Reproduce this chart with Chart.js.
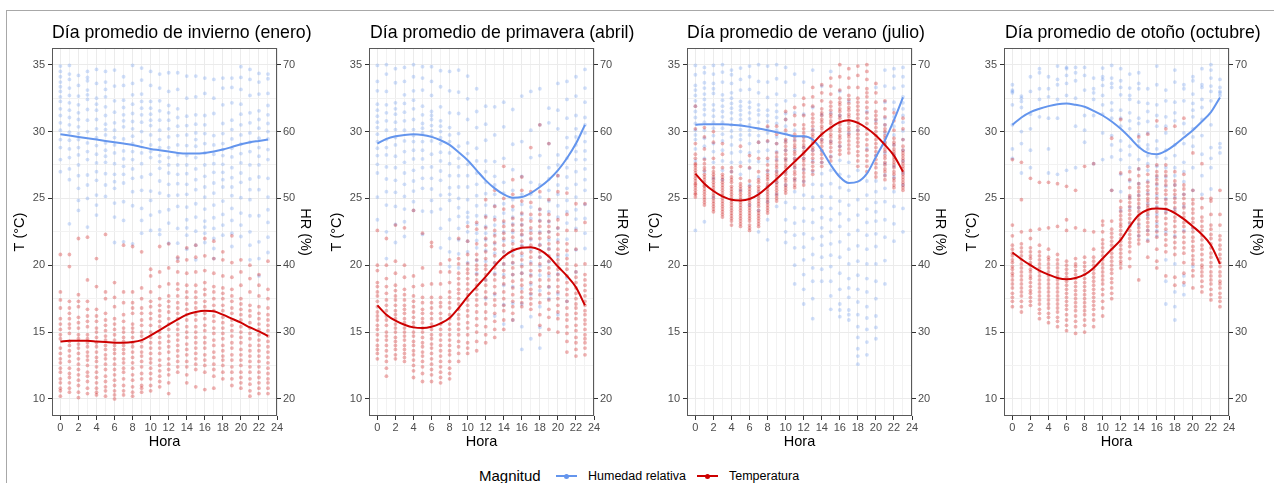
<!DOCTYPE html>
<html>
<head>
<meta charset="utf-8">
<script src="https://cdn.jsdelivr.net/npm/chart.js@4.4.0/dist/chart.umd.min.js"></script>
<style>
  body { margin: 0; background: #fff; font-family: "Liberation Sans", Arial, sans-serif; }
  #wrap { position: relative; width: 1274px; height: 483px; overflow: hidden; }
  #marco { position: absolute; left: 6px; top: 10px; width: 1268px; height: 473px;
           border-top: 1px solid #a8a8a8; border-left: 1px solid #a8a8a8; box-sizing: border-box; }
  canvas.panel { position: absolute; top: 0; }
  .titulo { position: absolute; top: 21.5px; height: 20px; line-height: 20px; font-size: 17.7px; color: #000; white-space: nowrap; }
  .ley { position: absolute; top: 467px; height: 18px; line-height: 18px; color: #000; white-space: nowrap; }
  .muestra { position: absolute; top: 475px; width: 21px; height: 2px; }
  .muestra i { position: absolute; left: 8px; top: -1.5px; width: 5px; height: 5px; border-radius: 50%; }
</style>
</head>
<body>
<div id="wrap">
  <div id="marco"></div>
  <canvas class="panel" id="p0" width="317" height="455" style="left:0px"></canvas>
  <canvas class="panel" id="p1" width="317" height="455" style="left:317px"></canvas>
  <canvas class="panel" id="p2" width="317" height="455" style="left:635px"></canvas>
  <canvas class="panel" id="p3" width="317" height="455" style="left:952px"></canvas>
  <div id="titulos"></div>

  <span class="ley" style="left:479px;font-size:15px">Magnitud</span>
  <div class="muestra" style="left:556px;background:#6495ED"><i style="background:#6495ED"></i></div>
  <span class="ley" style="left:588px;font-size:12.5px">Humedad relativa</span>
  <div class="muestra" style="left:697px;background:#CD0000"><i style="background:#CD0000"></i></div>
  <span class="ley" style="left:729px;font-size:12.5px">Temperatura</span>
</div>

<script>
// --- DATOS ---
const horas = [0,1,2,3,4,5,6,7,8,9,10,11,12,13,14,15,16,17,18,19,20,21,22,23];
const ticksHora = [0,2,4,6,8,10,12,14,16,18,20,22,24];
const gridHora = [0,1,2,3,4,5,6,7,8,9,10,11,12,13,14,15,16,17,18,19,20,21,22,23,24];
const ticksT = [10,15,20,25,30,35];
const gridT = [10,12.5,15,17.5,20,22.5,25,27.5,30,32.5,35];
const ticksHR = [20,30,40,50,60,70];

const titulos = [
    'Día promedio de invierno (enero)',
    'Día promedio de primavera (abril)',
    'Día promedio de verano (julio)',
    'Día promedio de otoño (octubre)'
];

// curvas suavizadas (una por hora)
const eneroCurvaT  = [14.3,14.35,14.35,14.35,14.3,14.25,14.2,14.2,14.25,14.4,14.75,15.15,15.55,15.95,16.3,16.5,16.6,16.55,16.3,16.0,15.7,15.35,15.05,14.7];
const eneroCurvaHR = [59.6,59.4,59.2,59.0,58.8,58.6,58.4,58.2,58.0,57.7,57.4,57.2,57.0,56.8,56.7,56.7,56.8,57.0,57.3,57.7,58.1,58.4,58.6,58.8];
const abrilCurvaT  = [17.0,16.3,15.85,15.55,15.35,15.3,15.4,15.65,16.05,16.8,17.65,18.4,19.15,19.95,20.65,21.1,21.3,21.35,21.15,20.65,19.9,19.2,18.35,17.0];
const abrilCurvaHR = [58.2,58.9,59.3,59.5,59.6,59.5,59.2,58.7,58.0,56.9,55.7,54.2,52.7,51.5,50.6,50.1,50.2,50.8,51.7,52.8,54.2,56.0,58.2,61.0];
const julioCurvaT  = [26.85,26.1,25.55,25.15,24.9,24.85,24.95,25.3,25.85,26.45,27.1,27.75,28.4,29.1,29.8,30.3,30.7,30.85,30.65,30.25,29.7,29.0,28.2,27.0];
const julioCurvaHR = [61.0,61.1,61.1,61.1,61.0,60.9,60.7,60.45,60.2,59.9,59.6,59.3,59.3,58.8,57.2,55.0,53.2,52.3,52.5,53.7,56.2,58.7,61.7,65.1];
const octubreCurvaT  = [20.95,20.45,20.0,19.6,19.3,19.05,18.95,19.05,19.3,19.8,20.5,21.2,21.9,22.9,23.75,24.15,24.25,24.2,23.9,23.45,22.9,22.3,21.5,20.1];
const octubreCurvaHR = [61.0,62.1,62.9,63.4,63.8,64.1,64.2,64.0,63.7,63.1,62.4,61.5,60.4,59.1,57.7,56.8,56.6,57.1,58.0,59.1,60.2,61.5,62.9,65.1];

// observaciones por hora (fila = hora 0..23)
const eneroT = [
  [10.2,10.8,11.5,12.3,13.0,13.8,14.5,15.2,16.0,16.8,18.0,20.8],
  [10.5,11.2,11.9,12.8,13.6,14.3,14.9,15.6,16.4,17.3,19.9,20.8],
  [10.1,11.0,11.8,12.6,13.4,14.1,14.8,15.3,16.1,16.9,17.8,22.0],
  [10.4,11.3,12.0,12.9,13.5,14.2,14.8,15.4,16.2,17.3,18.9,22.1],
  [10.3,10.8,11.6,12.4,13.1,13.9,14.6,15.3,15.8,16.7,18.4,20.5],
  [10.2,10.9,11.7,12.6,13.3,14.0,14.7,15.5,16.4,17.5,18.0,22.3],
  [10.0,10.6,11.4,12.2,13.0,13.7,14.4,15.2,16.0,16.9,17.6,18.7],
  [10.3,11.0,12.0,12.7,13.4,14.0,14.6,15.3,16.3,17.2,18.0,21.5],
  [10.2,10.9,11.8,12.7,13.5,14.2,15.0,15.6,16.4,17.2,18.0,21.4],
  [10.5,11.0,11.9,12.8,13.5,14.3,15.0,15.9,16.8,17.5,18.3,21.0],
  [10.6,11.5,12.3,13.0,13.8,14.6,15.5,16.4,17.3,18.0,19.2,19.7],
  [10.9,11.7,12.5,13.4,14.2,15.0,15.8,16.6,17.5,18.4,19.5,21.4],
  [10.4,11.8,12.6,13.5,14.3,15.2,16.0,16.9,17.7,18.6,19.8,21.6],
  [12.0,12.8,13.6,14.4,15.2,16.0,16.8,17.7,18.6,19.5,20.3,20.6],
  [11.2,12.4,13.3,14.1,15.0,15.9,16.7,17.6,18.5,19.4,20.4,21.3],
  [10.9,12.6,13.4,14.2,15.0,15.9,16.8,17.6,18.5,19.5,20.6,21.5],
  [10.7,12.5,13.3,14.2,15.1,16.0,16.9,17.8,18.7,19.6,20.7,22.0],
  [10.8,12.2,13.1,14.0,14.9,15.8,16.6,17.5,18.4,19.4,20.5,21.8],
  [11.5,12.5,13.2,14.0,14.9,15.7,16.6,17.5,18.3,19.2,20.4,21.0],
  [11.0,12.0,12.9,13.8,14.7,15.5,16.4,17.3,18.2,19.1,20.2,22.2],
  [10.8,11.6,12.5,13.3,14.2,15.0,15.9,16.7,17.5,18.5,19.5,20.4],
  [10.2,11.1,12.0,12.8,13.6,14.5,15.3,16.2,17.0,18.0,19.0,20.0],
  [10.4,11.2,12.0,12.8,13.6,14.4,15.2,16.0,16.9,17.7,18.5,19.3],
  [10.4,11.2,11.9,12.7,13.5,14.3,15.1,15.9,16.8,17.5,18.2,20.3]
];
const eneroT2 = [
  [10.6,11.2,12.0,12.7,13.4,14.8,15.6,17.4],
  [10.8,11.6,12.3,13.2,14.0,15.3,16.0,16.8],
  [10.5,11.4,12.2,13.0,13.8,14.5,15.7,17.3],
  [10.8,11.7,12.5,13.2,13.9,14.5,15.8,16.7],
  [10.5,11.2,12.0,12.8,13.5,14.2,15.0,16.2],
  [10.6,11.3,12.2,13.0,13.7,14.4,15.1,15.9],
  [10.3,11.0,11.8,12.6,13.4,14.0,14.8,15.6],
  [10.6,11.5,12.3,13.0,13.7,14.3,15.0,15.8],
  [10.5,11.4,12.3,13.1,13.9,14.6,15.3,16.8],
  [10.8,11.5,12.4,13.2,13.9,14.7,15.5,16.4],
  [11.0,11.9,12.7,13.4,14.2,15.0,16.0,16.9],
  [11.3,12.1,12.9,13.8,14.6,15.4,16.2,17.0],
  [11.2,12.2,13.0,13.9,14.7,15.6,16.5,17.3],
  [12.4,13.2,14.0,14.8,15.6,16.4,17.2,18.2],
  [11.8,12.8,13.7,14.6,15.4,16.3,17.1,18.0],
  [12.2,13.0,13.8,14.6,15.4,16.3,17.2,18.0],
  [12.0,12.9,13.8,14.6,15.5,16.4,17.3,18.2],
  [11.7,12.6,13.5,14.4,15.3,16.2,17.0,18.0],
  [12.0,12.9,13.6,14.5,15.3,16.1,17.0,17.9],
  [11.5,12.4,13.3,14.2,15.1,15.9,16.8,17.7],
  [11.2,12.0,12.9,13.7,14.6,15.4,16.3,17.1],
  [10.6,11.5,12.4,13.2,14.0,14.9,15.7,16.6],
  [10.8,11.6,12.4,13.2,14.0,14.8,15.6,16.4],
  [10.8,11.5,12.3,13.1,13.9,14.7,15.5,16.3]
];
const eneroHR = [
  [54.0,55.8,57.6,60.2,62.4,64.5,66.0,67.4,69.0,69.8],
  [46.2,52.8,56.1,58.7,61.0,63.2,65.4,66.5,67.8,69.9],
  [48.2,49.7,53.4,56.5,58.8,60.7,62.8,65.3,66.9,68.4],
  [45.7,50.0,53.5,55.8,58.3,61.7,64.8,66.2,67.6,68.1],
  [47.5,50.5,52.7,55.3,57.9,60.4,63.2,65.0,67.2,69.3],
  [50.3,52.0,55.4,57.2,59.5,61.1,63.7,65.2,67.4,69.0],
  [43.4,47.2,51.5,53.6,56.8,59.1,61.3,64.6,66.8,69.2],
  [43.5,46.7,52.3,54.8,57.1,60.7,62.5,64.7,66.9,68.2],
  [43.2,48.9,53.0,55.8,58.2,60.4,62.7,64.1,67.2,69.9],
  [44.8,48.5,51.2,55.2,58.5,61.4,63.5,65.6,67.7,69.5],
  [45.2,49.7,51.1,56.1,58.0,60.9,62.6,64.5,66.9,69.0],
  [44.6,45.3,50.8,54.5,56.4,58.8,61.7,64.6,66.5,68.6],
  [43.3,48.3,50.4,53.8,56.1,59.2,61.7,63.9,66.0,68.8],
  [41.0,45.5,48.8,52.2,55.0,58.0,60.8,63.4,66.3,68.8],
  [42.4,44.5,46.8,50.6,53.7,56.4,59.5,62.3,65.0,68.3],
  [40.8,43.0,47.2,51.3,54.4,57.8,59.8,62.5,65.2,68.3],
  [43.4,44.8,46.6,50.2,53.3,56.8,59.7,62.4,65.7,68.0],
  [41.0,44.0,47.1,50.8,53.9,56.6,59.4,62.7,65.0,67.8],
  [44.5,47.6,51.7,53.9,56.4,58.2,61.2,64.0,66.5,68.0],
  [42.8,46.7,50.4,53.1,56.2,58.9,61.7,64.3,66.6,68.0],
  [44.3,47.8,52.4,55.3,58.1,61.0,64.1,66.3,68.1,69.7],
  [40.8,45.0,49.8,52.9,57.0,59.8,62.8,65.4,67.8,69.3],
  [38.4,43.5,51.3,55.0,57.6,60.5,63.1,65.6,67.4,68.7],
  [41.9,46.4,50.2,55.8,58.9,61.2,63.9,65.7,67.9,68.6]
];
const eneroHR2 = [
  [58.8,61.3,63.4,65.2,66.7,68.2],
  [54.4,57.4,59.9,62.1,64.3,68.6],
  [51.5,55.0,57.6,59.7,61.8,64.0],
  [52.0,57.0,60.0,63.3,65.5,69.0],
  [49.0,54.0,56.6,59.1,61.8,64.1],
  [53.7,56.3,58.3,60.3,62.4,66.3],
  [49.3,52.5,55.2,58.0,60.2,62.9],
  [49.5,53.6,55.9,58.9,61.6,63.6],
  [51.0,54.4,57.0,59.3,61.5,65.5],
  [46.7,53.2,56.8,60.0,62.5,64.5],
  [47.5,53.6,57.0,59.5,61.7,63.5],
  [48.0,52.6,55.5,57.6,60.2,63.1],
  [46.3,52.1,55.0,57.6,60.4,62.8],
  [43.3,50.5,53.6,56.5,59.4,62.1],
  [45.6,48.7,52.1,55.0,57.9,60.9],
  [45.1,49.2,52.8,56.1,58.8,61.1],
  [45.7,48.4,51.7,55.0,58.2,61.0],
  [42.5,45.5,49.0,52.3,55.2,58.0],
  [46.0,49.6,52.8,55.1,57.3,59.7],
  [44.8,48.5,51.7,54.6,57.5,60.3],
  [46.0,50.1,53.8,56.7,59.5,62.6],
  [43.0,47.4,51.3,55.0,58.4,61.3],
  [41.0,47.4,53.2,56.3,59.0,61.8],
  [44.2,48.3,53.0,57.3,60.0,62.5]
];

const abrilT = [
  [13.0,13.7,14.4,15.2,15.9,16.5,17.3,18.0,18.7,19.6,20.0,22.6],
  [11.7,12.8,13.6,14.4,15.0,15.9,16.6,17.4,17.9,19.0,20.0,22.0],
  [13.0,13.7,14.3,15.0,15.6,16.3,17.0,17.7,18.5,19.4,20.3,23.0],
  [12.8,13.4,14.0,14.7,15.3,16.0,16.7,17.4,18.2,19.1,20.0,22.8],
  [11.6,12.5,13.3,14.0,14.7,15.4,16.1,16.9,17.7,18.4,19.2,24.1],
  [11.3,12.4,13.2,13.9,14.6,15.3,16.0,16.7,17.6,18.5,19.8,22.4],
  [11.3,12.2,13.0,13.8,14.5,15.2,16.0,16.8,17.6,18.6,21.4,21.7],
  [11.2,12.0,12.8,13.6,14.4,15.2,16.0,16.9,17.6,18.6,19.5,20.1],
  [11.5,12.3,13.3,14.0,14.8,15.6,16.3,17.2,18.0,18.7,19.5,20.4],
  [12.8,13.9,14.8,15.6,16.3,17.1,17.9,18.6,19.4,20.1,20.5,22.0],
  [13.4,14.2,15.3,16.2,17.0,17.8,18.6,19.4,20.1,20.8,21.8,22.9],
  [13.6,15.0,16.0,17.0,17.8,18.5,19.3,20.0,20.8,21.6,22.7,23.2],
  [14.2,15.4,16.5,17.6,18.5,19.3,20.0,21.0,22.0,22.8,23.6,24.9],
  [14.6,15.8,17.0,17.9,18.9,19.8,20.7,21.7,22.6,23.4,24.4,25.6],
  [15.2,16.6,17.5,18.6,19.6,20.6,21.5,22.4,23.3,24.2,25.0,27.4],
  [15.9,16.9,17.8,18.8,19.8,20.7,21.6,22.6,23.5,24.4,25.3,26.4],
  [16.9,17.6,18.5,19.4,20.4,21.4,22.3,23.0,23.9,24.8,25.6,26.6],
  [16.7,17.5,18.2,19.2,20.1,21.0,22.0,22.8,23.8,24.7,25.5,28.8],
  [14.8,15.5,17.2,18.4,19.6,20.6,21.5,22.4,23.3,24.2,25.5,30.5],
  [15.2,16.1,17.4,18.4,19.4,20.3,21.2,22.1,22.9,23.8,24.9,29.1],
  [15.0,16.0,17.0,18.0,18.9,19.7,20.4,21.2,22.3,23.4,25.5,26.7],
  [13.5,14.9,15.9,16.8,17.8,18.7,19.7,20.5,21.6,22.6,23.8,25.4],
  [13.2,14.2,15.1,16.0,16.8,17.5,18.3,19.1,20.0,21.2,22.6,24.6],
  [13.3,14.2,14.8,15.6,16.3,17.0,17.7,18.5,19.3,20.1,23.2,24.6]
];
const abrilT2 = [
  [13.4,14.0,14.8,15.5,16.2,16.9,17.7,18.4],
  [12.3,13.2,14.0,14.7,15.5,16.2,17.0,18.4],
  [13.3,14.0,14.6,15.3,16.0,16.6,17.4,18.1],
  [13.1,13.7,14.4,15.0,15.7,16.4,17.0,17.8],
  [12.1,12.9,13.6,14.3,15.0,15.7,16.5,17.3],
  [11.9,12.8,13.5,14.2,15.0,15.7,16.4,17.2],
  [11.8,12.6,13.4,14.1,14.8,15.6,16.4,17.2],
  [11.6,12.4,13.2,14.0,14.8,15.6,16.4,17.2],
  [11.9,12.8,13.6,14.4,15.2,16.0,16.8,17.6],
  [13.4,14.3,15.2,16.0,16.7,17.5,18.2,19.0],
  [13.8,14.8,15.7,16.6,17.4,18.2,19.0,19.7],
  [14.3,15.5,16.5,17.4,18.2,18.9,19.7,20.4],
  [14.8,16.0,17.1,18.0,18.9,19.7,20.5,21.5],
  [15.2,16.4,17.4,18.4,19.3,20.2,21.2,22.2],
  [15.9,17.0,18.0,19.1,20.1,21.0,22.0,22.9],
  [16.4,17.3,18.3,19.3,20.2,21.2,22.1,23.0],
  [17.2,18.0,18.9,19.9,20.9,21.8,22.6,23.4],
  [17.1,17.9,18.7,19.6,20.6,21.5,22.4,23.3],
  [16.3,17.8,18.9,20.1,21.0,22.0,22.9,23.8],
  [16.7,17.9,18.9,19.8,20.7,21.6,22.5,23.3],
  [16.5,17.5,18.4,19.3,20.1,20.8,21.7,22.8],
  [14.3,15.4,16.3,17.3,18.2,19.2,20.1,21.1],
  [13.7,14.6,15.5,16.4,17.1,17.9,18.7,19.5],
  [13.8,14.5,15.2,15.9,16.6,17.3,18.1,18.9]
];
const abrilHR = [
  [46.8,53.8,56.4,58.5,60.6,62.3,64.1,66.1,67.5,69.9],
  [41.0,49.0,52.9,56.5,58.8,61.6,64.0,66.0,68.6,70.0],
  [43.4,48.8,50.9,54.6,58.0,60.3,62.6,64.3,67.3,69.4],
  [44.3,46.5,50.3,53.8,57.0,60.2,62.9,65.5,67.5,69.6],
  [48.2,49.5,52.6,55.9,58.5,60.3,63.4,66.1,68.2,70.0],
  [44.6,51.5,54.6,57.2,59.8,61.2,63.8,66.2,68.0,69.7],
  [48.0,51.4,54.7,58.6,60.1,61.8,63.0,65.4,67.5,69.7],
  [42.6,48.4,52.7,55.6,58.2,60.0,61.6,63.7,66.7,69.1],
  [39.8,44.0,49.7,51.6,55.2,58.5,60.6,62.8,66.1,69.0],
  [39.6,43.8,47.3,50.0,53.4,56.0,59.7,62.7,65.9,69.2],
  [40.4,43.6,46.4,47.9,51.7,55.1,58.3,61.8,64.9,68.3],
  [38.8,42.6,44.8,47.4,50.4,53.8,57.5,60.6,63.0,66.4],
  [35.0,40.6,43.8,45.8,49.0,52.4,55.6,58.7,61.1,63.8],
  [32.4,38.8,41.8,44.7,47.2,50.6,53.3,55.5,59.5,63.7],
  [31.2,37.0,40.2,43.7,46.3,49.2,52.4,56.0,60.7,64.4],
  [31.8,36.8,40.3,43.6,46.2,48.3,51.2,54.3,58.1,63.3],
  [27.4,34.2,38.8,41.4,44.5,47.6,50.6,53.3,58.5,65.3],
  [29.0,35.6,38.6,42.4,45.2,48.7,52.4,56.1,60.2,66.0],
  [27.6,33.8,38.5,41.2,45.0,48.3,52.0,56.4,61.0,66.4],
  [35.0,38.4,42.5,45.0,48.0,51.2,54.6,58.2,61.3,63.5],
  [32.6,38.7,43.8,47.2,50.6,53.4,56.5,60.4,63.2,67.2],
  [34.6,41.5,46.3,49.7,53.2,56.0,59.1,62.0,64.8,67.5],
  [39.0,45.5,48.3,52.1,55.8,58.0,60.4,62.4,65.3,68.2],
  [42.5,47.0,51.2,54.4,57.1,59.8,62.1,64.4,66.5,69.3]
];
const abrilHR2 = [
  [50.2,55.1,57.5,59.6,61.4,63.2],
  [45.0,51.0,54.7,57.6,60.2,62.8],
  [46.1,52.7,56.3,59.1,61.4,63.4],
  [48.4,52.1,55.4,58.6,61.6,64.2],
  [51.1,54.2,57.2,59.4,61.8,64.7],
  [48.1,53.0,55.9,58.5,60.5,62.5],
  [49.7,53.0,56.6,59.3,60.9,62.4],
  [45.5,50.5,54.1,56.9,59.1,60.8],
  [42.0,46.8,50.6,53.4,56.8,59.5],
  [41.7,45.5,48.6,51.7,54.7,57.8],
  [42.0,45.0,47.2,49.8,53.4,56.7],
  [40.7,43.7,46.1,48.9,52.1,55.6],
  [37.8,42.2,44.8,47.4,50.7,54.0],
  [35.6,40.3,43.2,46.0,48.9,52.0],
  [34.1,38.6,42.0,45.0,47.8,50.8],
  [34.3,38.6,42.0,44.9,47.2,49.8],
  [30.8,36.5,40.1,43.0,46.1,49.1],
  [32.3,37.1,40.5,43.8,47.0,50.6],
  [30.7,36.2,39.9,43.1,46.7,50.2],
  [36.7,40.5,43.8,46.5,49.6,52.9],
  [35.7,41.3,45.5,48.9,52.0,55.0],
  [38.1,43.9,48.0,51.5,54.6,57.6],
  [42.3,46.9,50.2,54.0,57.0,59.2],
  [44.8,49.1,52.8,55.8,58.5,61.0]
];

const julioT = [
  [25.1,25.4,25.8,26.1,26.5,26.9,27.3,27.6,28.3,29.1,30.2,31.9],
  [24.5,24.9,25.3,25.7,26.0,26.4,26.8,27.3,27.9,28.7,29.6,30.3],
  [24.0,24.4,24.8,25.2,25.6,26.0,26.4,26.8,27.3,28.0,29.2,30.0],
  [23.6,24.0,24.4,24.8,25.2,25.6,26.0,26.4,26.8,27.3,28.3,29.1],
  [23.0,23.5,23.9,24.3,24.7,25.1,25.5,25.9,26.2,26.6,27.0,27.3],
  [22.9,23.3,23.7,24.1,24.5,24.9,25.3,25.7,26.1,26.5,27.4,28.9],
  [22.6,23.0,23.5,23.9,24.3,24.7,25.1,25.5,25.9,26.3,27.3,28.2],
  [22.9,23.3,23.7,24.1,24.6,25.0,25.5,25.9,26.4,27.0,28.0,29.2],
  [23.9,24.3,24.7,25.1,25.5,25.9,26.4,26.8,27.5,28.0,29.3,30.4],
  [24.8,25.2,25.6,26.0,26.4,26.8,27.3,27.8,28.4,29.1,29.8,30.4],
  [25.4,25.8,26.3,26.8,27.3,27.8,28.3,28.9,29.4,30.1,30.9,31.5],
  [25.8,26.3,26.8,27.3,27.8,28.3,28.8,29.3,29.8,30.5,31.2,31.8],
  [26.0,26.6,27.2,27.8,28.3,28.8,29.3,29.9,30.5,31.2,32.0,32.5],
  [26.8,27.4,28.0,28.6,29.1,29.6,30.1,30.7,31.3,31.9,32.6,33.3],
  [27.4,28.0,28.6,29.2,29.7,30.2,30.7,31.2,31.7,32.3,32.9,33.5],
  [27.8,28.5,29.1,29.6,30.1,30.6,31.1,31.6,32.2,32.8,33.4,34.0],
  [28.3,28.9,29.5,30.0,30.5,31.0,31.5,32.0,32.5,33.1,34.1,35.0],
  [28.4,29.0,29.6,30.1,30.6,31.1,31.6,32.1,32.7,33.3,34.0,34.7],
  [27.4,28.2,28.9,29.5,30.1,30.7,31.3,31.9,32.5,33.3,34.2,34.9],
  [27.0,27.8,28.6,29.4,30.2,31.0,31.8,32.6,33.2,33.9,34.5,35.0],
  [26.6,27.3,27.9,28.5,29.1,29.7,30.3,30.9,31.5,32.2,32.9,33.6],
  [26.4,27.0,27.5,28.0,28.5,29.0,29.5,30.0,30.5,31.1,31.7,32.3],
  [25.8,26.3,26.8,27.3,27.7,28.1,28.5,29.0,29.5,30.1,30.8,31.4],
  [25.6,26.0,26.4,26.8,27.2,27.6,28.0,28.4,28.9,29.4,30.2,31.0]
];
const julioT2 = [
  [25.3,25.6,26.0,26.3,26.7,27.1,27.5,28.0],
  [24.7,25.1,25.5,25.9,26.2,26.6,27.1,27.6],
  [24.2,24.6,25.0,25.4,25.8,26.2,26.6,27.0],
  [23.8,24.2,24.6,25.0,25.4,25.8,26.2,26.6],
  [23.3,23.7,24.1,24.5,24.9,25.3,25.7,26.4],
  [23.1,23.5,23.9,24.3,24.7,25.1,25.5,25.9],
  [22.8,23.3,23.7,24.1,24.5,24.9,25.3,25.7],
  [23.1,23.5,23.9,24.4,24.8,25.2,25.7,26.2],
  [24.1,24.5,24.9,25.3,25.7,26.1,26.6,27.1],
  [25.0,25.4,25.8,26.2,26.6,27.0,27.5,28.1],
  [25.6,26.0,26.5,27.0,27.5,28.0,28.6,29.2],
  [26.0,26.5,27.0,27.5,28.0,28.5,29.0,29.6],
  [26.3,26.9,27.5,28.0,28.5,29.0,29.6,30.2],
  [27.1,27.7,28.3,28.8,29.3,29.8,30.4,31.0],
  [27.7,28.3,28.9,29.4,29.9,30.4,30.9,31.4],
  [28.1,28.8,29.3,29.8,30.3,30.8,31.3,31.9],
  [28.6,29.2,29.7,30.2,30.7,31.2,31.7,32.2],
  [28.7,29.3,29.8,30.3,30.8,31.3,31.8,32.4],
  [27.8,28.5,29.2,29.8,30.4,31.0,31.6,32.2],
  [27.4,28.2,29.0,29.8,30.6,31.4,32.2,32.9],
  [26.9,27.6,28.2,28.8,29.4,30.0,30.6,31.2],
  [26.7,27.2,27.7,28.2,28.7,29.2,29.7,30.2],
  [26.0,26.5,27.0,27.5,27.9,28.3,28.7,29.2],
  [25.8,26.2,26.6,27.0,27.4,27.8,28.2,28.6]
];
const julioHR = [
  [45.2,55.6,58.8,60.2,62.1,63.8,65.4,66.9,68.5,69.9],
  [46.5,54.0,57.8,60.2,62.5,64.0,65.6,67.3,68.8,69.6],
  [50.2,55.4,58.2,60.5,62.3,64.0,65.7,67.2,68.6,69.9],
  [52.8,55.6,58.6,60.5,62.2,63.8,65.5,67.4,68.9,70.0],
  [54.0,56.8,59.2,61.0,62.8,64.2,65.8,67.2,68.5,69.2],
  [51.2,55.4,58.8,60.3,61.8,63.2,64.5,66.2,67.8,69.5],
  [49.0,54.5,56.8,59.5,61.0,62.8,64.4,66.3,68.2,69.8],
  [45.0,50.8,55.5,58.4,60.4,62.5,64.0,65.8,67.5,70.0],
  [43.8,49.5,54.0,57.2,59.8,61.5,63.2,65.1,67.4,69.8],
  [48.8,52.4,55.8,58.2,60.2,62.1,64.0,65.6,67.9,70.0],
  [43.4,46.8,52.0,55.8,58.6,60.8,62.7,64.6,67.4,69.6],
  [37.2,42.6,46.3,51.0,54.6,57.3,60.2,62.8,65.4,68.6],
  [34.2,36.4,40.8,44.7,48.5,52.5,56.0,59.2,62.6,67.4],
  [32.0,37.6,41.6,46.4,50.2,54.0,57.2,60.3,63.6,69.2],
  [37.6,41.2,43.0,45.6,48.6,52.0,55.4,58.8,62.5,66.8],
  [33.4,35.4,39.8,43.2,46.8,50.2,54.2,58.5,62.8,69.0],
  [32.3,34.2,36.4,41.2,45.8,49.6,53.6,57.8,62.4,66.0],
  [31.8,33.3,35.2,38.0,42.4,46.8,51.2,55.4,59.8,64.5],
  [25.2,27.5,30.8,32.6,36.4,40.6,45.2,49.8,54.2,60.2],
  [26.6,30.4,33.8,38.0,42.4,44.5,48.4,52.6,57.4,63.0],
  [29.0,32.4,37.6,42.8,46.6,49.4,52.6,56.4,61.6,66.6],
  [37.2,44.2,49.5,53.5,56.8,59.8,62.0,64.4,66.8,69.2],
  [43.6,48.8,53.2,56.5,59.5,62.2,64.4,66.5,68.3,69.4],
  [45.0,52.0,55.6,58.8,61.4,63.4,65.2,66.8,68.2,69.6]
];
const julioHR2 = [
  [57.4,59.5,61.2,63.0,64.6,66.2],
  [56.0,59.0,61.4,63.3,64.8,66.5],
  [53.0,57.0,59.4,61.4,63.2,66.4],
  [54.2,57.2,59.6,61.4,63.0,64.7],
  [55.4,58.0,60.1,61.9,63.5,65.0],
  [53.6,57.0,59.5,61.0,62.5,63.8],
  [52.0,55.6,58.2,60.2,61.9,63.6],
  [48.2,53.2,57.0,59.4,61.4,63.2],
  [46.8,51.8,55.6,58.5,60.6,62.4],
  [50.6,54.1,57.0,59.2,61.2,63.0],
  [45.0,49.4,54.0,57.2,59.7,61.8],
  [40.0,44.5,48.6,52.8,55.9,58.8],
  [38.6,42.7,46.6,50.5,54.3,57.6],
  [35.0,39.6,44.0,48.3,52.1,55.6],
  [39.4,44.3,47.1,50.3,53.7,57.1],
  [37.6,41.5,45.0,48.5,52.2,56.3],
  [33.3,38.8,43.5,47.7,51.6,55.7],
  [32.6,36.6,40.2,44.6,49.0,53.3],
  [26.4,29.2,34.5,38.5,42.9,47.5],
  [28.5,32.1,36.0,40.2,46.4,50.5],
  [30.7,35.0,40.2,44.7,48.0,51.0],
  [40.7,46.8,51.5,55.2,58.3,61.0],
  [46.2,51.0,54.8,58.0,60.8,63.3],
  [48.5,53.8,57.2,60.1,62.4,64.3]
];

const octubreT = [
  [16.9,17.6,18.3,18.9,19.4,19.9,20.4,20.9,21.5,22.2,23.0,27.9],
  [16.5,17.3,18.0,18.6,19.2,19.8,20.4,21.0,21.6,22.5,24.9,27.7],
  [17.0,17.6,18.1,18.7,19.2,19.7,20.2,20.7,21.3,22.0,22.6,26.5],
  [16.0,16.7,17.4,18.0,18.6,19.2,19.8,20.4,21.0,21.5,22.7,26.2],
  [15.7,16.4,17.1,17.7,18.3,18.9,19.5,20.1,20.6,21.2,22.8,26.2],
  [15.4,16.1,16.8,17.4,18.0,18.6,19.2,19.8,20.4,20.8,22.9,26.1],
  [15.1,15.9,16.7,17.3,17.9,18.5,19.1,19.7,20.3,22.6,23.4,25.9],
  [14.9,15.8,16.6,17.2,17.8,18.4,19.0,19.6,20.1,20.5,22.8,25.6],
  [15.0,15.9,16.6,17.2,17.8,18.4,19.0,19.6,20.2,20.6,22.6,27.4],
  [15.4,16.3,17.0,17.6,18.2,18.8,19.4,20.0,20.6,21.2,22.5,27.6],
  [16.2,17.3,18.2,18.9,19.5,20.1,20.7,21.3,21.9,22.5,23.0,23.3],
  [17.5,18.3,19.0,19.7,20.3,20.9,21.5,22.1,22.7,23.3,25.6,29.5],
  [19.8,20.3,20.9,21.5,22.0,22.6,23.1,23.7,24.3,24.8,26.9,30.9],
  [19.9,21.0,21.7,22.3,22.9,23.5,24.1,24.7,25.2,25.8,26.4,27.0],
  [18.9,21.9,22.5,23.1,23.7,24.3,24.9,25.5,26.1,26.7,27.2,29.6],
  [20.6,22.3,22.9,23.5,24.0,24.5,25.0,25.6,26.2,26.8,27.4,29.8],
  [19.8,20.3,22.1,22.9,23.6,24.3,25.0,25.7,26.4,27.0,27.5,30.8],
  [19.2,21.0,21.9,22.7,23.5,24.2,24.9,25.6,26.3,27.0,27.5,30.2],
  [18.5,19.1,21.3,22.1,22.9,23.6,24.3,25.0,25.6,26.3,27.0,30.4],
  [18.7,19.4,20.9,21.7,22.5,23.2,23.9,24.6,25.3,26.0,26.8,31.0],
  [18.3,19.2,20.1,20.7,21.4,22.1,22.8,23.5,24.2,24.9,25.6,28.4],
  [18.0,18.8,19.5,20.0,20.8,21.5,22.2,22.9,23.6,24.3,25.0,27.6],
  [17.4,18.2,18.9,19.5,20.2,20.9,21.6,22.3,23.0,23.8,24.8,25.0],
  [16.9,17.6,18.3,18.8,19.5,20.2,20.8,21.5,22.2,23.0,23.8,25.6]
];
const octubreT2 = [
  [17.3,17.9,18.6,19.2,19.7,20.2,20.7,21.2],
  [16.9,17.7,18.3,18.9,19.5,20.1,20.7,21.3],
  [17.3,17.9,18.4,19.0,19.5,20.0,20.5,21.0],
  [16.4,17.1,17.7,18.3,18.9,19.5,20.1,20.7],
  [16.1,16.8,17.4,18.0,18.6,19.2,19.8,20.4],
  [15.8,16.5,17.1,17.7,18.3,18.9,19.5,20.1],
  [15.5,16.3,17.0,17.6,18.2,18.8,19.4,20.0],
  [15.4,16.2,16.9,17.5,18.1,18.7,19.3,19.9],
  [15.5,16.3,16.9,17.5,18.1,18.7,19.3,19.9],
  [15.9,16.7,17.3,17.9,18.5,19.1,19.7,20.3],
  [16.8,17.8,18.6,19.2,19.8,20.4,21.0,21.6],
  [17.9,18.7,19.4,20.0,20.6,21.2,21.8,22.4],
  [20.1,20.6,21.2,21.8,22.3,22.9,23.4,24.0],
  [20.5,21.4,22.0,22.6,23.2,23.8,24.4,25.0],
  [21.6,22.2,22.8,23.4,24.0,24.6,25.2,25.8],
  [21.8,22.6,23.2,23.8,24.3,24.8,25.3,25.9],
  [21.2,22.5,23.3,24.0,24.7,25.4,26.1,26.7],
  [21.5,22.3,23.1,23.9,24.6,25.3,26.0,26.7],
  [20.8,21.7,22.5,23.3,24.0,24.7,25.3,26.0],
  [20.2,21.3,22.1,22.9,23.6,24.3,25.0,25.7],
  [19.6,20.4,21.1,21.8,22.5,23.2,23.9,24.6],
  [18.4,19.2,19.8,20.4,21.2,21.9,22.6,23.3],
  [17.8,18.6,19.2,19.9,20.6,21.3,22.0,22.7],
  [17.3,17.9,18.6,19.2,19.9,20.5,21.2,21.9]
];
const octubreHR = [
  [56.0,57.4,64.0,65.8,66.2,67.0],
  [53.8,58.2,63.6,65.0,65.3],
  [54.6,57.2,62.6,66.0,68.2],
  [62.2,66.4,68.8,69.4],
  [53.8,57.4,65.2,66.4,68.2],
  [53.6,62.0,64.8,67.8,69.8],
  [54.2,65.4,67.2,69.4,69.6],
  [54.6,60.8,67.6,68.8,69.6],
  [58.4,60.2,66.2,68.4,69.6],
  [55.2,62.4,64.8,66.4,68.0],
  [55.8,59.8,64.0,65.4,66.9,68.2,69.5],
  [51.2,56.2,59.4,62.0,64.3,66.6,68.0,69.9],
  [48.2,53.6,55.8,58.6,60.8,63.2,65.5,67.6,69.4],
  [46.2,50.2,54.6,57.8,60.4,62.8,64.8,66.5,68.6],
  [44.4,48.6,52.2,55.8,57.8,59.5,62.0,64.4,66.4,68.8],
  [45.2,47.4,50.8,54.2,56.4,58.0,59.8,61.5,64.2,66.4],
  [44.4,46.2,48.8,52.0,54.8,56.2,57.4,60.8,64.0,67.0,69.8],
  [34.2,40.8,48.0,51.8,54.6,57.2,59.8,62.2,64.6,66.2],
  [31.8,33.8,40.2,48.4,52.0,54.6,58.0,61.6,64.4,67.4,69.2],
  [35.6,38.4,48.8,52.5,55.4,58.2,61.2,64.6,66.4,67.0],
  [39.8,51.2,57.8,60.4,62.2,64.2,65.6,67.6,68.2],
  [50.6,56.6,61.8,63.6,66.6,67.0,69.4],
  [51.4,54.6,57.6,64.6,66.0,68.0,69.2,70.0],
  [56.8,58.2,65.4,65.8,66.6,67.8]
];
const octubreHR2 = [
  [61.0,66.0],
  [60.0,64.5],
  [60.4],
  [64.8],
  [62.0],
  [67.0],
  [68.4],
  [65.0],
  [62.4],
  [65.8],
  [62.6,67.8],
  [58.0,63.2,67.2],
  [51.0,57.2,62.0,66.6],
  [48.6,52.6,56.5,61.6,65.4],
  [46.0,50.5,54.4,58.6,61.2,67.2],
  [43.8,49.2,52.6,55.2,57.4,63.0],
  [45.2,47.6,50.4,53.2,58.6,62.4],
  [37.6,45.0,50.0,53.2,56.0,60.8],
  [36.0,44.4,50.2,53.4,56.4,62.8],
  [37.0,45.2,50.6,54.0,59.8],
  [45.6,54.6,59.2,63.2],
  [53.4,59.4,64.8],
  [56.0,61.0,66.8],
  [57.6,66.0]
];

// --- COLORES ---
const rojo = '#CD0000';
const azul = '#6495ED';
const izquierdaPanel = [52, 370, 687, 1005];

// borde del panel (como theme_bw)
const bordePanel = {
    id: 'bordePanel',
    afterDraw(chart) {
        const a = chart.chartArea;
        const ctx = chart.ctx;
        ctx.save();
        ctx.strokeStyle = '#595959';
        ctx.lineWidth = 1;
        ctx.strokeRect(Math.round(a.left) + 0.5, Math.round(a.top) + 0.5,
                       Math.round(a.right - a.left) - 1, Math.round(a.bottom - a.top) - 1);
        ctx.restore();
    }
};

function puntos(filas, extra) {
    const out = [];
    filas.forEach((vals, h) => vals.concat(extra[h]).forEach(v => out.push({x: horas[h], y: v})));
    return out;
}
function curva(vals) {
    return horas.map((h, i) => ({x: h, y: vals[i]}));
}
function fijarTicks(lista) {
    return s => { s.ticks = lista.map(v => ({value: v})); };
}

function crearPanel(idx, datosT, datosT2, datosHR, datosHR2, curvaT, curvaHR) {
    const t = document.createElement('div');
    t.className = 'titulo';
    t.style.left = izquierdaPanel[idx] + 'px';
    t.textContent = titulos[idx];
    document.getElementById('titulos').appendChild(t);

    const fuenteTick = {family: '"Liberation Sans", Arial, sans-serif', size: 11};
    const fuenteTitulo = {family: '"Liberation Sans", Arial, sans-serif', size: 14.5};
    new Chart(document.getElementById('p' + idx), {
        type: 'scatter',
        data: {
            datasets: [
                { type: 'line', data: curva(curvaT), yAxisID: 'y', borderColor: rojo, borderWidth: 2,
                  pointRadius: 0, cubicInterpolationMode: 'monotone', fill: false },
                { type: 'line', data: curva(curvaHR), yAxisID: 'y2', borderColor: azul, borderWidth: 2,
                  pointRadius: 0, cubicInterpolationMode: 'monotone', fill: false },
                { data: puntos(datosT, datosT2), yAxisID: 'y', backgroundColor: 'rgba(205,0,0,0.3)',
                  borderWidth: 0, pointRadius: 1.9 },
                { data: puntos(datosHR, datosHR2), yAxisID: 'y2', backgroundColor: 'rgba(100,149,237,0.3)',
                  borderWidth: 0, pointRadius: 1.9 }
            ]
        },
        options: {
            responsive: false,
            animation: false,
            events: [],
            layout: { padding: { top: 48 } },
            plugins: {
                legend: { display: false },
                tooltip: { enabled: false },
                title: { display: false }
            },
            scales: {
                x: {
                    type: 'linear', min: -0.93, max: 24, bounds: 'data',
                    afterBuildTicks: fijarTicks(gridHora),
                    afterFit: s => { s.height = 39; },
                    border: { display: false },
                    grid: {
                        color: c => c.tick && ticksHora.includes(c.tick.value) ? '#ebebeb' : '#f2f2f2',
                        tickColor: c => c.tick && ticksHora.includes(c.tick.value) ? '#333' : 'rgba(0,0,0,0)',
                        tickLength: 4
                    },
                    ticks: {
                        autoSkip: false, maxRotation: 0, padding: 1,
                        color: '#4d4d4d', font: fuenteTick,
                        callback: v => ticksHora.includes(v) ? String(v) : ''
                    },
                    title: { display: true, text: 'Hora', color: '#000', font: fuenteTitulo,
                             padding: {top: 0, bottom: 4.6} }
                },
                y: {
                    position: 'left', min: 8.72, max: 36.25, bounds: 'data',
                    afterBuildTicks: fijarTicks(gridT),
                    afterFit: s => { s.width = 52; },
                    border: { display: false },
                    grid: {
                        color: c => c.tick && ticksT.includes(c.tick.value) ? '#ebebeb' : '#f2f2f2',
                        tickColor: c => c.tick && ticksT.includes(c.tick.value) ? '#333' : 'rgba(0,0,0,0)',
                        tickLength: 4
                    },
                    ticks: {
                        autoSkip: false, padding: 3,
                        color: '#4d4d4d', font: fuenteTick,
                        callback: v => ticksT.includes(v) ? String(v) : ''
                    },
                    title: { display: true, text: 'T (°C)', color: '#000', font: fuenteTitulo,
                             padding: {top: 11.6, bottom: 0} }
                },
                y2: {
                    position: 'right', min: 17.44, max: 72.5, bounds: 'data',
                    afterBuildTicks: fijarTicks(ticksHR),
                    afterFit: s => { s.width = 40; },
                    border: { display: false },
                    grid: { drawOnChartArea: false, tickColor: '#333', tickLength: 4 },
                    ticks: {
                        autoSkip: false, padding: 2,
                        color: '#4d4d4d', font: fuenteTick,
                        callback: v => ticksHR.includes(v) ? String(v) : ''
                    },
                    title: { display: true, text: 'HR (%)', color: '#000', font: fuenteTitulo,
                             padding: {top: 3, bottom: 0} }
                }
            }
        },
        plugins: [bordePanel]
    });
}

crearPanel(0, eneroT, eneroT2, eneroHR, eneroHR2, eneroCurvaT, eneroCurvaHR);
crearPanel(1, abrilT, abrilT2, abrilHR, abrilHR2, abrilCurvaT, abrilCurvaHR);
crearPanel(2, julioT, julioT2, julioHR, julioHR2, julioCurvaT, julioCurvaHR);
crearPanel(3, octubreT, octubreT2, octubreHR, octubreHR2, octubreCurvaT, octubreCurvaHR);
</script>
</body>
</html>
